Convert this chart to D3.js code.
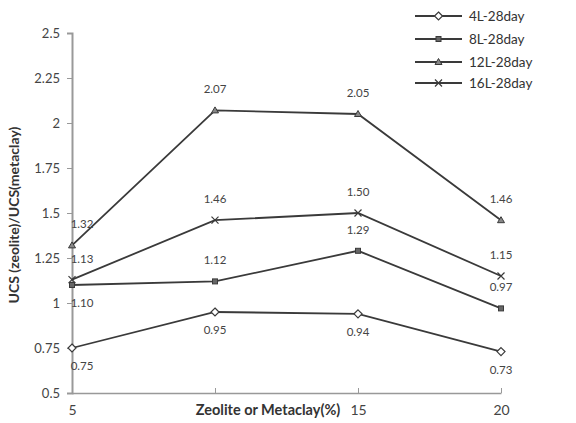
<!DOCTYPE html>
<html><head><meta charset="utf-8">
<script src="https://cdn.jsdelivr.net/npm/d3@7"></script>
<style>body{margin:0;background:#fff;} svg{display:block;font-family:Lato,"Open Sans",sans-serif;}</style>
</head><body>
<svg id="c" width="576" height="423"></svg>
<script>
const categories = [5, 10, 15, 20];
const seriesNames = ["4L-28day", "8L-28day", "12L-28day", "16L-28day"];
const s4L = [0.75, 0.95, 0.94, 0.73];
const s8L = [1.10, 1.12, 1.29, 0.97];
const s12L = [1.32, 2.07, 2.05, 1.46];
const s16L = [1.13, 1.46, 1.50, 1.15];
const yTicks = [0.5, 0.75, 1, 1.25, 1.5, 1.75, 2, 2.25, 2.5];
const xTickLabels = ["5", "", "15", "20"];
const labelPos4L = ["below", "below", "below", "below"];
const labelPos8L = ["below", "above", "above", "above"];
const labelPos12L = ["above", "above", "above", "above"];
const labelPos16L = ["above", "above", "above", "above"];

const series = [
  {name: seriesNames[0], values: s4L, pos: labelPos4L, marker: "diamond"},
  {name: seriesNames[1], values: s8L, pos: labelPos8L, marker: "square"},
  {name: seriesNames[2], values: s12L, pos: labelPos12L, marker: "triangle"},
  {name: seriesNames[3], values: s16L, pos: labelPos16L, marker: "cross"}
];

const svg = d3.select("#c");
const x = d3.scalePoint().domain(categories).range([72, 501]);
const y = d3.scaleLinear().domain([0.5, 2.5]).range([393, 33]);

const axisColor = "#999";
const lineColor = "#3a3a3a";

// y axis
const ya = svg.append("g").attr("transform", "translate(72,0)")
  .call(d3.axisLeft(y).tickValues(yTicks).tickFormat(d => d3.format("")(d)).tickSize(5).tickPadding(7));
ya.select(".domain").attr("stroke", axisColor).attr("stroke-width", 2);
ya.selectAll(".tick line").attr("stroke", axisColor);
ya.selectAll("text").attr("font-size", 13).attr("fill", "#444").attr("font-family", "Lato");

// x axis
const xa = svg.append("g").attr("transform", "translate(0,393)")
  .call(d3.axisBottom(x).tickFormat((d, i) => xTickLabels[i]).tickSize(5).tickSizeOuter(0).tickPadding(7));
xa.select(".domain").attr("stroke", axisColor).attr("stroke-width", 1.5);
xa.selectAll(".tick line").attr("stroke", axisColor).attr("transform", "translate(0,-5)");
xa.selectAll("text").attr("font-size", 14).attr("fill", "#444").attr("font-family", "Lato");

// axis titles
svg.append("text").attr("x", 268).attr("y", 415).attr("text-anchor", "middle")
  .attr("font-size", 14.5).attr("font-weight", "bold").attr("fill", "#333").text("Zeolite or Metaclay(%)");
svg.append("text").attr("transform", "translate(19,215) rotate(-90)").attr("text-anchor", "middle")
  .attr("font-size", 14).attr("font-weight", "bold").attr("fill", "#333").text("UCS (zeolite)/UCS(metaclay)");

const line = d3.line().x((d, i) => x(categories[i])).y(d => y(d));

function drawMarker(g, type, cx, cy) {
  if (type === "diamond") {
    g.append("path").attr("d", `M${cx},${cy-4}L${cx+4},${cy}L${cx},${cy+4}L${cx-4},${cy}Z`)
      .attr("fill", "#fff").attr("stroke", lineColor).attr("stroke-width", 1.2);
  } else if (type === "square") {
    g.append("rect").attr("x", cx-2.5).attr("y", cy-2.5).attr("width", 5).attr("height", 5)
      .attr("fill", "#666").attr("stroke", lineColor).attr("stroke-width", 1);
  } else if (type === "triangle") {
    g.append("path").attr("d", `M${cx},${cy-3.5}L${cx+3.5},${cy+2.5}L${cx-3.5},${cy+2.5}Z`)
      .attr("fill", "#888").attr("stroke", lineColor).attr("stroke-width", 1);
  } else {
    g.append("path").attr("d", `M${cx-3.5},${cy-3.5}L${cx+3.5},${cy+3.5}M${cx-3.5},${cy+3.5}L${cx+3.5},${cy-3.5}`)
      .attr("stroke", lineColor).attr("stroke-width", 1.2);
  }
}

series.forEach(s => {
  const g = svg.append("g");
  g.append("path").datum(s.values).attr("d", line).attr("fill", "none")
    .attr("stroke", lineColor).attr("stroke-width", 1.8);
  s.values.forEach((v, i) => drawMarker(g, s.marker, x(categories[i]), y(v)));
  s.values.forEach((v, i) => {
    const px = x(categories[i]) + (i === 0 ? 10 : 0);
    const py = s.pos[i] === "above" ? y(v) - 17 : y(v) + 22;
    g.append("text").attr("x", px).attr("y", py).attr("text-anchor", "middle")
      .attr("font-size", 11.5).attr("fill", "#444").text(v.toFixed(2));
  });
});

// legend
const lg = svg.append("g");
const legendY = [16, 39, 62, 83];
series.forEach((s, i) => {
  const ly = legendY[i];
  lg.append("line").attr("x1", 415).attr("x2", 462).attr("y1", ly).attr("y2", ly)
    .attr("stroke", lineColor).attr("stroke-width", 1.8);
  drawMarker(lg, s.marker, 438.5, ly);
  lg.append("text").attr("x", 469).attr("y", ly + 5).attr("font-size", 13.5).attr("fill", "#333").text(s.name);
});
</script>
</body></html>
